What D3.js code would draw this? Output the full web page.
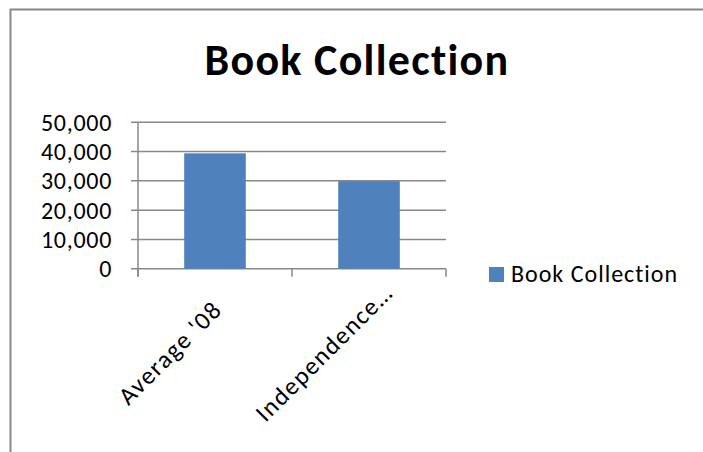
<!DOCTYPE html>
<html>
<head>
<meta charset="utf-8">
<script src="https://cdn.jsdelivr.net/npm/d3@7/dist/d3.min.js"></script>
<style>
  html, body { margin: 0; padding: 0; background: #fff; }
  svg { display: block; }
  text { font-family: Carlito, Calibri, Lato, sans-serif; fill: #000; }
</style>
</head>
<body>
<div id="chart"></div>
<script>
var width = 703,
    height = 452;

// data
var categories = ["Average '08", "Independence\u2026"];
var values = [39400, 29900];
var seriesName = "Book Collection";
var yTicks = [0, 10000, 20000, 30000, 40000, 50000];

var plot = { left: 138, right: 446, top: 122.3, bottom: 268.7 };

var svg = d3.select("#chart").append("svg")
    .attr("width", width)
    .attr("height", height);

// chart border (runs off the right and bottom edge)
svg.append("rect")
    .attr("x", 10.5)
    .attr("y", 9.5)
    .attr("width", 720)
    .attr("height", 470)
    .attr("fill", "#fff")
    .attr("stroke", "#888")
    .attr("stroke-width", 2);

svg.append("text")
    .attr("x", 357)
    .attr("y", 74.5)
    .attr("text-anchor", "middle")
    .style("font-size", "44px")
    .style("font-weight", "bold")
    .style("letter-spacing", "1.3px")
    .text(seriesName);

var y = d3.scaleLinear()
    .domain([0, 50000])
    .range([plot.bottom, plot.top]);

var xBand = d3.scaleBand()
    .domain(categories)
    .range([plot.left, plot.right]);

var xBar = d3.scaleBand()
    .domain(categories)
    .range([plot.left, plot.right])
    .paddingInner(0.6)
    .paddingOuter(0.3);

// gridlines
svg.append("g").selectAll("line")
    .data(yTicks)
    .enter().append("line")
    .attr("x1", plot.left - 7)
    .attr("x2", plot.right)
    .attr("y1", function(d) { return y(d); })
    .attr("y2", function(d) { return y(d); })
    .attr("stroke", "#888")
    .attr("stroke-width", 1.5);

// y axis line
svg.append("line")
    .attr("x1", plot.left).attr("x2", plot.left)
    .attr("y1", plot.top).attr("y2", plot.bottom + 8)
    .attr("stroke", "#888")
    .attr("stroke-width", 1.5);

// category ticks
var catEdges = categories.map(function(d) { return xBand(d); }).concat([plot.right]);
svg.append("g").selectAll("line")
    .data(catEdges)
    .enter().append("line")
    .attr("x1", function(d) { return d; })
    .attr("x2", function(d) { return d; })
    .attr("y1", plot.bottom)
    .attr("y2", plot.bottom + 8)
    .attr("stroke", "#888")
    .attr("stroke-width", 1.5);

svg.append("g").selectAll("text")
    .data(yTicks)
    .enter().append("text")
    .attr("x", 112)
    .attr("y", function(d) { return y(d); })
    .attr("dy", "0.35em")
    .attr("text-anchor", "end")
    .style("font-size", "24px")
    .style("letter-spacing", "0.7px")
    .text(function(d) { return d3.format(",")(d); });

svg.append("g").selectAll("rect")
    .data(values)
    .enter().append("rect")
    .attr("x", function(d, i) { return xBar(categories[i]); })
    .attr("width", xBar.bandwidth())
    .attr("y", function(d) { return y(d); })
    .attr("height", function(d) { return y(0) - y(d); })
    .attr("fill", "#4f81bd");

// rotated category labels
svg.append("g").selectAll("text")
    .data(categories)
    .enter().append("text")
    .attr("text-anchor", "middle")
    .attr("transform", function(d) {
        var cx = xBand(d) + xBand.bandwidth() / 2;
        return "translate(" + (cx - 39) + "," + (plot.bottom + 90) + ") rotate(-45)";
    })
    .style("font-size", "25px")
    .style("letter-spacing", "1.5px")
    .text(function(d) { return d; });

// legend
var legend = svg.append("g");
legend.append("rect")
    .attr("x", 489)
    .attr("y", 267)
    .attr("width", 15)
    .attr("height", 15)
    .attr("fill", "#4f81bd");
legend.append("text")
    .attr("x", 511)
    .attr("y", 282)
    .style("font-size", "24px")
    .style("letter-spacing", "1px")
    .text(seriesName);
</script>
</body>
</html>
